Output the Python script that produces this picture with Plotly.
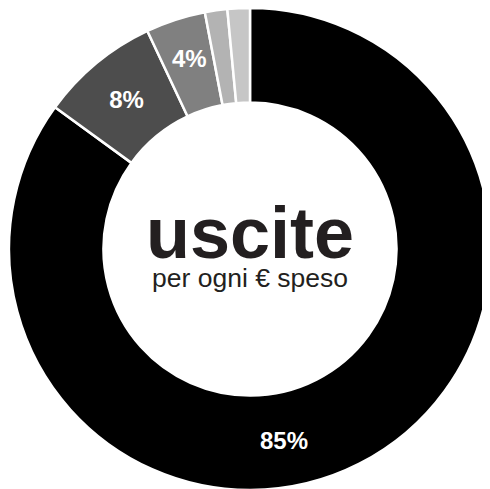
import plotly.graph_objects as go

categories = ["A", "B", "C", "D", "E"]
values = [85, 8, 4, 1.5, 1.5]
slice_labels = ["", "8%", "", "", ""]
colors = ["#000000", "#4d4d4d", "#808080", "#b3b3b3", "#c6c6c6"]
title_main = "uscite"
title_sub = "per ogni € speso"
label_85 = "85%"
label_4 = "4%"

fig = go.Figure(go.Pie(
    labels=categories,
    values=values,
    text=slice_labels,
    textinfo="text",
    textposition="inside",
    insidetextorientation="horizontal",
    textfont=dict(family="Liberation Sans", size=24, color="white", weight="bold"),
    hole=0.608,
    sort=False,
    direction="clockwise",
    rotation=0,
    marker=dict(colors=colors, line=dict(color="white", width=2.5)),
    showlegend=False,
    domain=dict(x=[0, 1], y=[0, 1]),
))

lab_font = dict(family="Liberation Sans", size=24, color="white")
fig.add_annotation(x=0.570, y=0.102, xref="paper", yref="paper", text="<b>" + label_85 + "</b>",
                   xanchor="center", yanchor="middle", showarrow=False, font=lab_font)
fig.add_annotation(x=0.374, y=0.896, xref="paper", yref="paper", text="<b>" + label_4 + "</b>",
                   xanchor="center", yanchor="middle", showarrow=False, font=lab_font)
fig.add_annotation(
    x=0.5, y=0.5124, xref="paper", yref="paper", xanchor="center", yanchor="middle",
    text=("<span style='font-size:72px;font-weight:bold'>" + title_main + "</span><br>"
          "<span style='font-size:26.5px'>" + title_sub + "</span>"),
    showarrow=False, align="center",
    font=dict(family="Liberation Sans", size=22.3, color="#231f20"))

fig.update_layout(width=484, height=482, margin=dict(l=0, r=0, t=0, b=0),
                  paper_bgcolor="white", plot_bgcolor="white")
fig.write_html("out.html")
